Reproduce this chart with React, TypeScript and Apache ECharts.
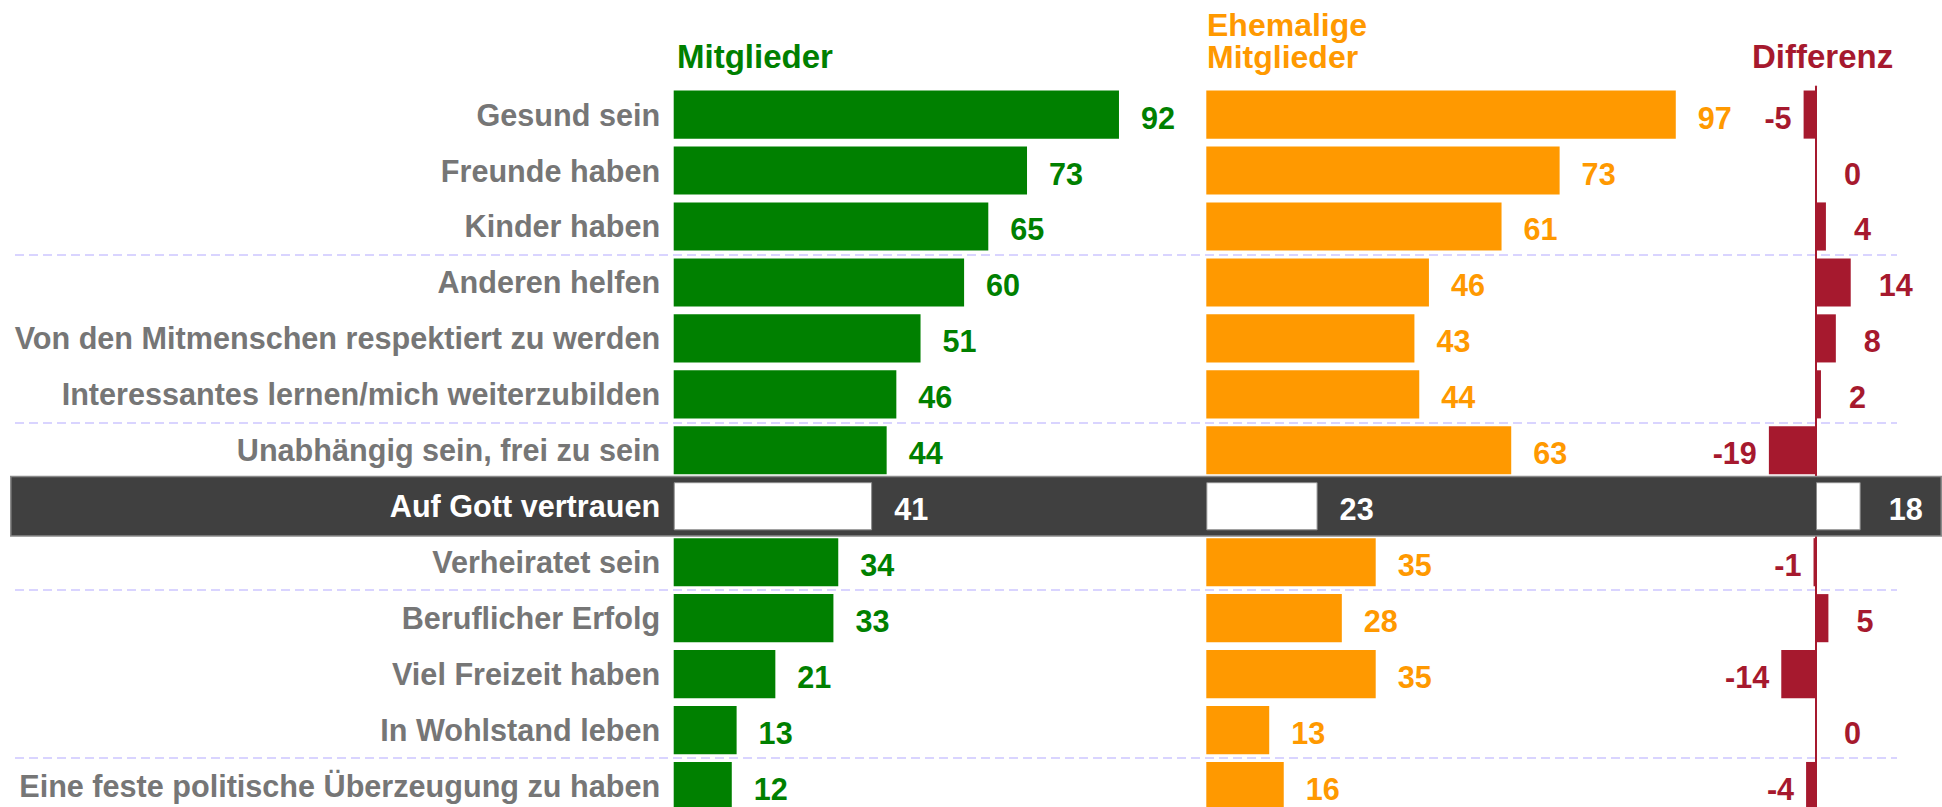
import React, { useEffect, useRef } from "react";
import * as echarts from "echarts";

const categories = [
  "Gesund sein",
  "Freunde haben",
  "Kinder haben",
  "Anderen helfen",
  "Von den Mitmenschen respektiert zu werden",
  "Interessantes lernen/mich weiterzubilden",
  "Unabhängig sein, frei zu sein",
  "Auf Gott vertrauen",
  "Verheiratet sein",
  "Beruflicher Erfolg",
  "Viel Freizeit haben",
  "In Wohlstand leben",
  "Eine feste politische Überzeugung zu haben",
];
const members = [92, 73, 65, 60, 51, 46, 44, 41, 34, 33, 21, 13, 12];
const formerMembers = [97, 73, 61, 46, 43, 44, 63, 23, 35, 28, 35, 13, 16];
const differences = [-5, 0, 4, 14, 8, 2, -19, 18, -1, 5, -14, 0, -4];
const highlightCategory = "Auf Gott vertrauen";
const groupStartIndices = [3, 6, 9, 12];
const titleMembers = "Mitglieder";
const titleFormer = ["Ehemalige", "Mitglieder"];
const titleDiff = "Differenz";

const FONT = "'Liberation Sans', Arial, Helvetica, sans-serif";
const GREEN = "#008000";
const ORANGE = "#ff9900";
const RED = "#a6192e";
const GRAY = "#767676";
const BAND = "#404040";
const CHART_H = 830;
const TOP = 86.6;
const BOTTOM = 16;
const LABEL_SIZE = 30.6;

function buildOption() {
  const hi = categories.indexOf(highlightCategory);
  const valueLabel = (color: string) => ({
    show: true,
    position: "right",
    distance: 22,
    offset: [0, 3],
    color,
    fontSize: LABEL_SIZE,
    fontWeight: "bold",
    fontFamily: FONT,
  });
  const barData = (vals: number[]) =>
    vals.map((v, i) =>
      i === hi
        ? {
            value: v,
            itemStyle: { color: "#ffffff", borderColor: "#8c8c8c", borderWidth: 1 },
            label: { color: "#ffffff" },
          }
        : v
    );
  const diffData = differences.map((v, i) => {
    const item: any = {
      value: v,
      label: v < 0 ? { position: "left", distance: 12 } : { position: "right", distance: 28 },
    };
    if (i === hi) {
      item.itemStyle = { color: "#ffffff", borderColor: "#8c8c8c", borderWidth: 1 };
      item.label.color = "#ffffff";
    }
    return item;
  });
  const hiddenY = (gridIndex: number) => ({
    type: "category",
    gridIndex,
    data: categories,
    inverse: true,
    show: false,
  });
  const hiddenX = (gridIndex: number, min: number, max: number) => ({
    type: "value",
    gridIndex,
    min,
    max,
    show: false,
  });
  const titleStyle = (color: string, size: number) => ({
    fill: color,
    font: `bold ${size}px ${FONT}`,
  });
  return {
    animation: false,
    backgroundColor: "#ffffff",
    grid: [
      { left: 673.7, width: 484, top: TOP, bottom: BOTTOM },
      { left: 1206.3, width: 484, top: TOP, bottom: BOTTOM },
      { left: 1692, width: 248, top: TOP, bottom: BOTTOM },
      { left: 10, right: -4, top: TOP, bottom: BOTTOM },
      { left: 15, width: 1882, top: TOP, bottom: BOTTOM },
    ],
    xAxis: [
      hiddenX(0, 0, 100),
      hiddenX(1, 0, 100),
      hiddenX(2, -50, 50),
      hiddenX(3, 0, 1),
      hiddenX(4, 0, 1),
    ],
    yAxis: [
      {
        type: "category",
        gridIndex: 0,
        data: categories,
        inverse: true,
        z: 5,
        axisLine: { show: false },
        axisTick: { show: false },
        splitLine: { show: false },
        axisLabel: {
          show: true,
          margin: 13.6,
          padding: [6, 0, 0, 0],
          fontSize: LABEL_SIZE,
          fontWeight: "bold",
          fontFamily: FONT,
          color: (_v: any, idx: number) => (idx === hi ? "#ffffff" : GRAY),
        },
      },
      hiddenY(1),
      {
        type: "category",
        gridIndex: 2,
        data: categories,
        inverse: true,
        axisLine: { show: true, onZero: true, lineStyle: { color: RED, width: 2 } },
        axisTick: { show: false },
        axisLabel: { show: false },
        splitLine: { show: false },
      },
      hiddenY(3),
      {
        type: "category",
        gridIndex: 4,
        data: categories,
        inverse: true,
        axisLine: { show: false },
        axisTick: { show: false },
        axisLabel: { show: false },
        splitLine: {
          show: true,
          interval: (idx: number) => groupStartIndices.indexOf(idx) >= 0,
          lineStyle: { color: "#cdc6ff", width: 1.6, type: [9, 5] },
        },
      },
    ],
    series: [
      {
        type: "bar",
        xAxisIndex: 3,
        yAxisIndex: 3,
        z: 1,
        silent: true,
        barWidth: "109%",
        data: categories.map((c) => (c === highlightCategory ? 1 : "-")),
        itemStyle: { color: BAND, borderColor: "#8a8a8a", borderWidth: 1.5 },
      },
      {
        type: "bar",
        name: titleMembers,
        xAxisIndex: 0,
        yAxisIndex: 0,
        barWidth: "86%",
        itemStyle: { color: GREEN },
        label: valueLabel(GREEN),
        data: barData(members),
      },
      {
        type: "bar",
        name: titleFormer.join(" "),
        xAxisIndex: 1,
        yAxisIndex: 1,
        barWidth: "86%",
        itemStyle: { color: ORANGE },
        label: valueLabel(ORANGE),
        data: barData(formerMembers),
      },
      {
        type: "bar",
        name: titleDiff,
        xAxisIndex: 2,
        yAxisIndex: 2,
        barWidth: "86%",
        itemStyle: { color: RED },
        label: valueLabel(RED),
        data: diffData,
      },
    ],
    graphic: [
      { type: "text", left: 677, top: 40, style: { text: titleMembers, ...titleStyle(GREEN, 33) } },
      { type: "text", left: 1207, top: 9, style: { text: titleFormer[0], ...titleStyle(ORANGE, 32) } },
      { type: "text", left: 1207, top: 41, style: { text: titleFormer[1], ...titleStyle(ORANGE, 32) } },
      { type: "text", left: 1752, top: 40, style: { text: titleDiff, ...titleStyle(RED, 33) } },
    ],
  };
}

export default function App() {
  const ref = useRef<HTMLDivElement>(null);
  useEffect(() => {
    document.body.style.margin = "0";
    const chart = echarts.init(ref.current!, undefined, { renderer: "svg" });
    chart.setOption(buildOption() as any);
    return () => chart.dispose();
  }, []);
  return (
    <div style={{ position: "absolute", left: 0, top: 0, width: 1942, height: 807, overflow: "hidden" }}>
      <div ref={ref} style={{ width: 1942, height: CHART_H }} />
    </div>
  );
}
